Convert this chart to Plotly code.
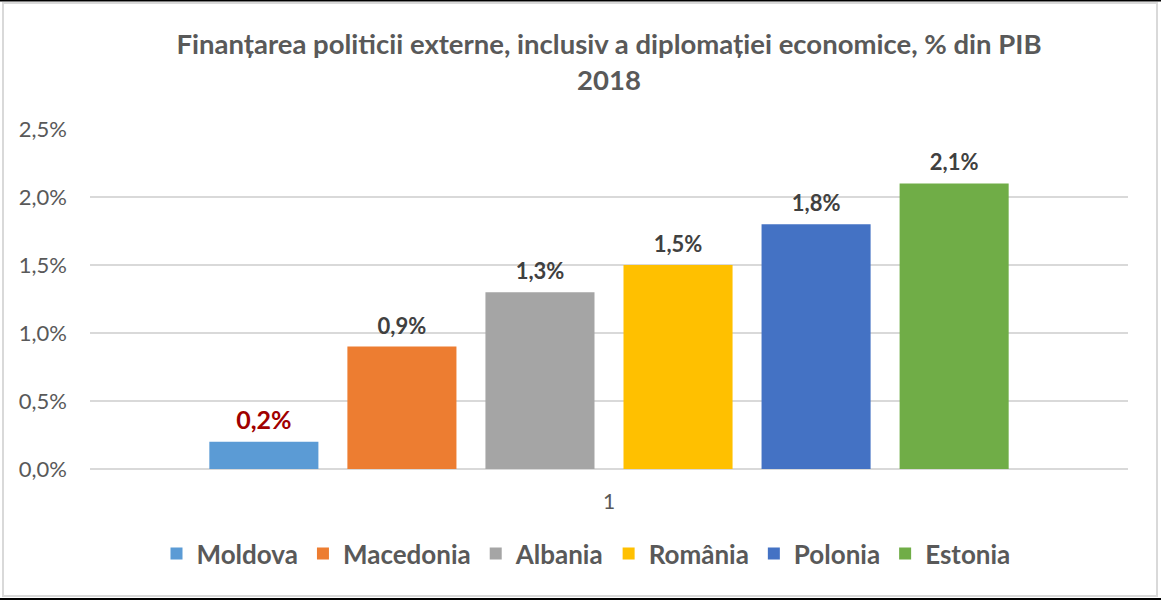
import plotly.graph_objects as go

categories = ["1"]
countries = ["Moldova", "Macedonia", "Albania", "România", "Polonia", "Estonia"]
values = [0.002, 0.009, 0.013, 0.015, 0.018, 0.021]
colors = ["#5B9BD5", "#ED7D31", "#A5A5A5", "#FFC000", "#4472C4", "#70AD47"]
label_colors = ["#A00000", "#404040", "#404040", "#404040", "#404040", "#404040"]
label_sizes = [25, 22, 22, 22, 22, 22]
y_ticks = [0, 0.005, 0.01, 0.015, 0.02, 0.025]

FONT = "Lato"
GRAY = "#595959"

fig = go.Figure()
for name, v, c, lc, ls in zip(countries, values, colors, label_colors, label_sizes):
    fig.add_trace(go.Bar(
        x=categories, y=[v], name=name, marker_color=c, marker_line_width=0,
        texttemplate="<span style='font-size:%dpx'>%%{y:.1%%}</span><br> " % ls,
        textposition="outside", cliponaxis=False,
        textfont=dict(family=FONT, size=7, color=lc, weight="bold"),
    ))

W, H = 1161, 600
L, R, T, B = 90, 33, 129, 131
pw, ph = W - L - R, H - T - B

def px(x):
    return (x - L) / pw

def py(y):
    return (H - B - y) / ph

shapes = [
    dict(type="rect", xref="paper", yref="paper", x0=px(3), x1=px(1157), y0=py(3), y1=py(596),
         line=dict(color="#D9D9D9", width=2), fillcolor="rgba(0,0,0,0)", layer="below"),
    dict(type="line", xref="paper", yref="paper", x0=px(0), x1=px(1161), y0=py(0.5), y1=py(0.5),
         line=dict(color="black", width=2)),
    dict(type="line", xref="paper", yref="paper", x0=px(0), x1=px(1161), y0=py(599), y1=py(599),
         line=dict(color="black", width=2)),
]

fig.update_layout(
    width=W, height=H,
    margin=dict(l=L, r=R, t=T, b=B),
    paper_bgcolor="white", plot_bgcolor="white",
    separators=", ",
    barmode="group", bargap=0.202, bargroupgap=0.21,
    title=dict(
        text="Finanțarea politicii externe, inclusiv a diplomației economice, % din PIB<br>2018",
        x=0.5, xref="paper", xanchor="center", y=1 - 54 / H, yanchor="top",
        font=dict(family=FONT, size=27.5, color=GRAY, weight="bold"),
    ),
    xaxis=dict(showline=False, showgrid=False, ticks="", ticklabelstandoff=18,
               tickfont=dict(family=FONT, size=21, color=GRAY)),
    yaxis=dict(range=[0, 0.025], tickvals=y_ticks, tickformat=".1%",
               showgrid=True, gridcolor="#D9D9D9", gridwidth=1.5,
               zeroline=True, zerolinecolor="#D9D9D9", zerolinewidth=1.5,
               showline=False, ticks="", ticklabelstandoff=22,
               tickfont=dict(family=FONT, size=22, color=GRAY)),
    legend=dict(orientation="h", x=px(586), xanchor="center", y=-0.18, yanchor="top",
                font=dict(family=FONT, size=26, color=GRAY, weight="bold"),
                itemwidth=30, traceorder="normal"),
    shapes=shapes,
    showlegend=True,
)

fig.write_html("out.html")
